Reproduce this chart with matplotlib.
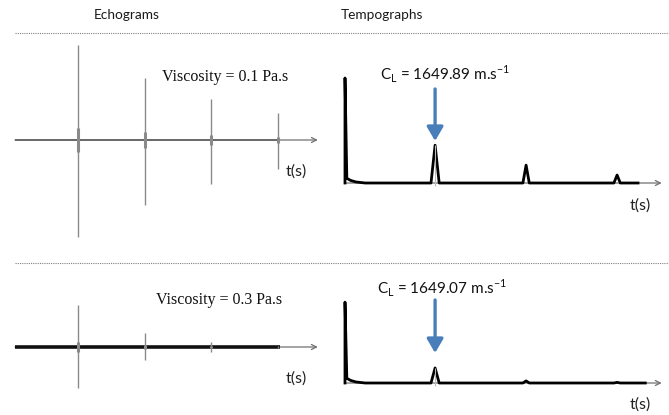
import numpy as np
import matplotlib
matplotlib.use("Agg")
import matplotlib.pyplot as plt
from matplotlib.lines import Line2D

# ---------------- data ----------------
titles = ["Echograms", "Tempographs"]
viscosity_labels = ["Viscosity = 0.1 Pa.s", "Viscosity = 0.3 Pa.s"]
cl_labels = [r"C$_\mathregular{L}$ = 1649.89 m.s$^\mathregular{-1}$",
             r"C$_\mathregular{L}$ = 1649.07 m.s$^\mathregular{-1}$"]
axis_label = "t(s)"

# echograms: echo times (round trips) and amplitudes (up / down)
echo_t = [0.99, 1.99, 2.99, 4.0]
echo1_up = [0.99, 0.65, 0.43, 0.28]
echo1_down = [1.01, 0.68, 0.46, 0.30]
echo2_up = [0.44, 0.15, 0.05, 0.01]
echo2_down = [0.43, 0.14, 0.05, 0.01]
echo_signal_end = 4.03

# tempographs: initial spike decay and peaks
init_t = [0.0, 0.0, 0.02, 0.06, 0.12, 0.22]
init1_v = [0.0, 1.0, 0.045, 0.025, 0.01, 0.0]
init2_v = [0.0, 0.77, 0.045, 0.025, 0.01, 0.0]
peak_t = [0.99, 1.99, 2.99]
peak1_h = [0.36, 0.17, 0.076]
peak2_h = [0.143, 0.02, 0.006]
peak_hw = [0.045, 0.035, 0.035]
tempo1_end = 3.22
tempo2_end = 3.30

# ---------------- figure ----------------
W, H = 669, 415
fig = plt.figure(figsize=(W / 100, H / 100), dpi=100)
SANS = "Lato"
SERIF = "Liberation Serif"
plt.rcParams["mathtext.fontset"] = "custom"
plt.rcParams["mathtext.rm"] = SANS
plt.rcParams["font.family"] = SANS
plt.rcParams["axes.unicode_minus"] = False


def add_ax(left, top, width, height):
    ax = fig.add_axes([left / W, 1 - (top + height) / H, width / W, height / H])
    ax.set_axis_off()
    return ax


GRAY = "#8a8a8a"
BLUE = "#4a7ebb"

# titles
fig.text(127 / W, 1 - 15 / H, titles[0], ha="center", va="center", fontsize=9.8, color="#1a1a1a")
fig.text(382 / W, 1 - 15 / H, titles[1], ha="center", va="center", fontsize=9.8, color="#1a1a1a")

# dotted separators
for ypx in (33, 263):
    fig.add_artist(Line2D([15 / W, 1.0], [1 - ypx / H] * 2, transform=fig.transFigure,
                          color="#808080", lw=0.8, linestyle=(0, (1, 1))))

# ---------- echograms ----------
ex_scale = 66.33
ex_left = 12.7
ex_xlim = (0, 4.7)
ex_width = (ex_xlim[1] - ex_xlim[0]) * ex_scale


def draw_echo(ax, ups, downs, sig_color, sig_lw, label, label_xy, ts_xy):
    ax.set_xlim(*ex_xlim)
    ax.annotate("", xy=(4.6, 0), xytext=(0.035, 0),
                arrowprops=dict(arrowstyle="->", color="#707070", lw=0.9,
                                shrinkA=0, shrinkB=0, mutation_scale=9), zorder=1)
    ax.plot([0.035, echo_signal_end], [0, 0], color=sig_color, lw=sig_lw,
            solid_capstyle="butt", zorder=2)
    for t, u, d in zip(echo_t, ups, downs):
        ax.vlines(t, -d, u, color=GRAY, lw=1.0, zorder=3)
        core = 0.12 * max(u, d)
        ax.vlines(t, -core, core, color="#8a8a8a", lw=2.2, zorder=3)
    ax.text(label_xy[0], label_xy[1], label, ha="center", va="center",
            family=SERIF, fontsize=11.5, color="#111111")
    ax.text(ts_xy[0], ts_xy[1], axis_label, ha="center", va="center",
            fontsize=11.5, color="#222222")


ax_e1 = add_ax(ex_left, 140 - 1.05 * 96, ex_width, 2 * 1.05 * 96)
ax_e1.set_ylim(-1.05, 1.05)
ax_e2 = add_ax(ex_left, 347 - 0.5 * 96, ex_width, 96)
ax_e2.set_ylim(-0.5, 0.5)

draw_echo(ax_e1, echo1_up, echo1_down, "#6a6a6a", 1.4, viscosity_labels[0],
          ((225 - ex_left) / ex_scale, (140 - 77) / 96),
          ((296 - ex_left) / ex_scale, -(172 - 140) / 96))
draw_echo(ax_e2, echo2_up, echo2_down, "#111111", 2.6, viscosity_labels[1],
          ((219 - ex_left) / ex_scale, (347 - 300) / 96),
          ((296 - ex_left) / ex_scale, -(379 - 347) / 96))

# ---------- tempographs ----------
tp_scale = 91.0
tp_xlim = (-0.05, 3.55)
tp_left = 345 - 0.05 * tp_scale
tp_width = (tp_xlim[1] - tp_xlim[0]) * tp_scale
tp_unit = 105.0


def build_signal(init_v, heights, t_end):
    xs = list(init_t)
    ys = list(init_v)
    for t, h, hw in zip(peak_t, heights, peak_hw):
        xs += [t - hw, t, t + hw]
        ys += [0.0, h, 0.0]
    xs.append(t_end)
    ys.append(0.0)
    return np.array(xs), np.array(ys)


def draw_tempo(ax, init_v, heights, t_end, label, label_xy, arrow_from, arrow_to, ts_y):
    ax.set_xlim(*tp_xlim)
    ax.set_ylim(-0.1, 1.1)
    ax.annotate("", xy=(3.48, 0), xytext=(0.0, 0),
                arrowprops=dict(arrowstyle="->", color="#707070", lw=0.9,
                                shrinkA=0, shrinkB=0, mutation_scale=9), zorder=1)
    x, y = build_signal(init_v, heights, t_end)
    ax.plot(x, y, color="black", lw=2.0, solid_joinstyle="round", zorder=3)
    ax.vlines(peak_t[0], -0.03, heights[0], color="#bbbbbb", lw=0.8, zorder=4)
    ax.annotate("", xy=(peak_t[0], arrow_to), xytext=(peak_t[0], arrow_from),
                arrowprops=dict(arrowstyle="-|>,head_width=0.35,head_length=0.6",
                                color=BLUE, lw=2.4, shrinkA=0, shrinkB=0,
                                mutation_scale=14), zorder=4)
    ax.text(label_xy[0], label_xy[1], label, ha="center", va="center",
            fontsize=11, color="#111111", clip_on=False)
    ax.text((640 - 345) / tp_scale, ts_y, axis_label, ha="center", va="center",
            fontsize=11.5, color="#222222", clip_on=False)


ax_t1 = add_ax(tp_left, 183 - 1.1 * tp_unit, tp_width, 1.2 * tp_unit)
ax_t2 = add_ax(tp_left, 383 - 1.1 * tp_unit, tp_width, 1.2 * tp_unit)

draw_tempo(ax_t1, init1_v, peak1_h, tempo1_end, cl_labels[0],
           ((445 - 345) / tp_scale, (183 - 74) / tp_unit),
           (183 - 89) / tp_unit, (183 - 141) / tp_unit, -(206 - 183) / tp_unit)
draw_tempo(ax_t2, init2_v, peak2_h, tempo2_end, cl_labels[1],
           ((442 - 345) / tp_scale, (383 - 288) / tp_unit),
           (383 - 300) / tp_unit, (383 - 353) / tp_unit, -(405 - 383) / tp_unit)

fig.savefig("out.png", dpi=100, facecolor="white")
